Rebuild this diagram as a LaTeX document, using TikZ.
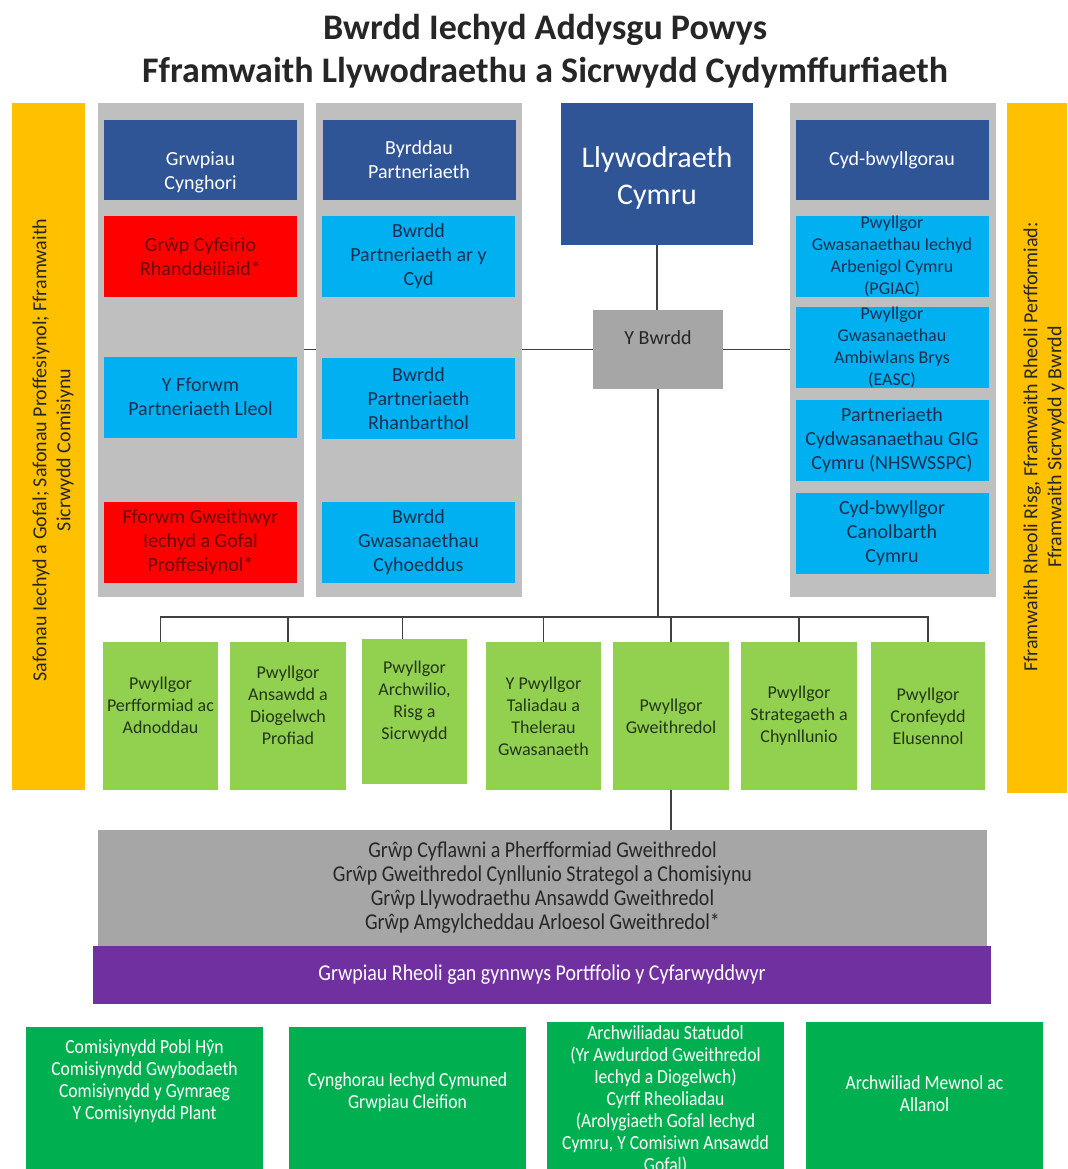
\documentclass[tikz,border=0pt]{standalone}
\usepackage{fontspec}
\setmainfont{Carlito}
\newfontfamily\narrowfont[FakeStretch=0.88]{Carlito}
\usepackage{xcolor}
\usetikzlibrary{positioning,backgrounds}

\definecolor{yellowbar}{HTML}{FFC000}
\definecolor{colgray}{HTML}{BFBFBF}
\definecolor{bgray}{HTML}{A6A6A6}
\definecolor{navy}{HTML}{2F5597}
\definecolor{skyblue}{HTML}{00B0F0}
\definecolor{boxred}{HTML}{FF0000}
\definecolor{lgreen}{HTML}{92D050}
\definecolor{dgreen}{HTML}{00B050}
\definecolor{violet}{HTML}{7030A0}
\definecolor{bluetxt}{HTML}{1C2F4F}
\definecolor{redtxt}{HTML}{6A0A0A}
\definecolor{greentxt}{HTML}{23361A}
\definecolor{darktxt}{HTML}{262626}
\definecolor{linegray}{HTML}{404040}

\begin{document}
\begin{tikzpicture}[
    x=0.75pt, y=-0.75pt,
    sz/.style 2 args={minimum width=#1*0.75pt, minimum height=#2*0.75pt},
    base/.style={inner sep=0pt, align=center},
    colbg/.style={base,fill=colgray,sz={206}{494}},
    hdr/.style={base,fill=navy,text=white,font=\fontsize{15}{18}\selectfont,sz={193}{80}},
    lb/.style={base,fill=skyblue,text=bluetxt,font=\fontsize{15}{18}\selectfont,sz={193}{81}},
    lbs/.style={lb,font=\fontsize{13.5}{16.5}\selectfont},
    rb/.style={base,fill=boxred,text=redtxt,font=\fontsize{15}{18}\selectfont,sz={193}{81}},
    pw/.style={base,fill=lgreen,text=greentxt,font=\fontsize{13.5}{16.5}\selectfont},
    dg/.style={base,fill=dgreen},
    dgt/.style={base,text=white,font=\narrowfont\fontsize{15}{16.5}\selectfont},
    ybox/.style={base,fill=yellowbar},
    ytxt/.style={base,rotate=90,text=darktxt,font=\fontsize{15}{18}\selectfont},
    ttl/.style={text=darktxt,font=\bfseries\fontsize{27}{32}\selectfont},
    link/.style={draw=linegray,line width=1pt},
  ]
  \useasboundingbox (0,0) rectangle (1067,1169);

  % title
  \node[ttl] (title1) at (545,30) {Bwrdd Iechyd Addysgu Powys};
  \node[ttl] (title2) at (545,73) {Fframwaith Llywodraethu a Sicrwydd Cydymffurfiaeth};

  % side bars
  \node[ybox,sz={73}{687}] (yl) at (48.5,446.5) {};
  \node[ytxt] (ylt) at (53,450) {Safonau Iechyd a Gofal; Safonau Proffesiynol; Fframwaith\\Sicrwydd Comisiynu};
  \node[ybox,sz={60}{690}] (yr) at (1037,448) {};
  \node[ytxt] (yrt) at (1044,447) {Fframwaith Rheoli Risg, Fframwaith Rheoli Perfformiad:\\Fframwaith Sicrwydd y Bwrdd};

  % grey columns
  \node[colbg] (c1) at (201,350) {};
  \node[colbg] (c2) at (419,350) {};
  \node[colbg] (c4) at (893,350) {};

  % advisory groups
  \node[hdr] (grwp) at (200.5,160) {\rule{0pt}{29pt}Grwpiau\\Cynghori};
  \node[rb] (cyfeirio) at (200.5,256.5) {Grŵp Cyfeirio\\Rhanddeiliaid*};
  \node[lb] (fforwm) at (200.5,397) {Y Fforwm\\Partneriaeth Lleol};
  \node[rb] (gweithwyr) at (200.5,542.5) {Fforwm Gweithwyr\\Iechyd a Gofal\\Proffesiynol*};

  % partnership boards
  \node[hdr] (byrddau) at (419,160) {Byrddau\\Partneriaeth};
  \node[lb] (arycyd) at (418.5,256.5) {Bwrdd\\Partneriaeth ar y\\Cyd};
  \node[lb] (rhanb) at (418.5,398.5) {Bwrdd\\Partneriaeth\\Rhanbarthol};
  \node[lb] (gwasan) at (418.5,542.5) {Bwrdd\\Gwasanaethau\\Cyhoeddus};

  % centre
  \node[hdr,sz={192}{142},font=\fontsize{22.5}{27}\selectfont] (llyw) at (657,174) {\rule{0pt}{21.5pt}Llywodraeth\\[1pt]Cymru};
  \node[base,fill=bgray,text=darktxt,sz={130}{79},font=\fontsize{15}{18}\selectfont] (bwrdd) at (658,349.5) {Y Bwrdd\\~};

  % joint committees
  \node[hdr] (cydb) at (892,160) {Cyd-bwyllgorau};
  \node[lbs] (pgiac) at (892,256.5) {Pwyllgor\\Gwasanaethau Iechyd\\Arbenigol Cymru\\(PGIAC)};
  \node[lbs] (easc) at (892,347.5) {Pwyllgor\\Gwasanaethau\\Ambiwlans Brys\\(EASC)};
  \node[lb] (nhs) at (892,440) {Partneriaeth\\Cydwasanaethau GIG\\Cymru (NHSWSSPC)};
  \node[lb] (canolb) at (892,533.5) {Cyd-bwyllgor\\Canolbarth\\Cymru};

  % board committees
  \node[pw,sz={115}{148}] (p1) at (160.5,716) {Pwyllgor\\Perfformiad ac\\Adnoddau\\~};
  \node[pw,sz={116}{148}] (p2) at (288,716) {Pwyllgor\\Ansawdd a\\Diogelwch\\Profiad\\~};
  \node[pw,sz={105}{145}] (p3) at (414.5,711.5) {Pwyllgor\\Archwilio,\\Risg a\\Sicrwydd\\~};
  \node[pw,sz={115}{148}] (p4) at (543.5,716) {Y Pwyllgor\\Taliadau a\\Thelerau\\Gwasanaeth};
  \node[pw,sz={116}{148}] (p5) at (671,716) {Pwyllgor\\Gweithredol};
  \node[pw,sz={116}{148}] (p6) at (799,716) {Pwyllgor\\Strategaeth a\\Chynllunio};
  \node[pw,sz={114}{148}] (p7) at (928,716) {Pwyllgor\\Cronfeydd\\Elusennol};

  % executive groups
  \node[base,fill=bgray,text=darktxt,sz={889}{116},font=\narrowfont\fontsize{17}{18}\selectfont] (grp) at (542.5,888) {Grŵp Cyflawni a Pherfformiad Gweithredol\\Grŵp Gweithredol Cynllunio Strategol a Chomisiynu\\Grŵp Llywodraethu Ansawdd Gweithredol\\Grŵp Amgylcheddau Arloesol Gweithredol*};
  \node[base,fill=violet,text=white,sz={898}{58},font=\narrowfont\fontsize{17}{18}\selectfont] (rheoli) at (542,975) {Grwpiau Rheoli gan gynnwys Portffolio y Cyfarwyddwyr};

  % external bodies
  \node[dg,sz={237}{150}] (b1) at (144.5,1102) {};
  \node[dg,sz={237}{150}] (b2) at (407.5,1102) {};
  \node[dg,sz={237}{155}] (b3) at (665.5,1099.5) {};
  \node[dg,sz={237}{155}] (b4) at (924.5,1099.5) {};
  \node[dgt] (b1t) at (144.5,1081.5) {Comisiynydd Pobl Hŷn\\Comisiynydd Gwybodaeth\\Comisiynydd y Gymraeg\\Y Comisiynydd Plant};
  \node[dgt] (b2t) at (407.5,1092) {Cynghorau Iechyd Cymuned\\Grwpiau Cleifion};
  \node[dgt] (b3t) at (665.5,1099.5) {Archwiliadau Statudol\\(Yr Awdurdod Gweithredol\\Iechyd a Diogelwch)\\Cyrff Rheoliadau\\(Arolygiaeth Gofal Iechyd\\Cymru, Y Comisiwn Ansawdd\\Gofal)};
  \node[dgt] (b4t) at (924.5,1094) {Archwiliad Mewnol ac\\Allanol};

  % connectors, behind the boxes
  \begin{scope}[on background layer]
    \coordinate (bus) at (0,617);
    \draw[link] (llyw.south) -- (llyw.south |- bwrdd.north);
    \draw[link] (bwrdd.west) -- (bwrdd.west -| c1.east);
    \draw[link] (bwrdd.east) -- (bwrdd.east -| c4.west);
    \draw[link] (bwrdd.south) -- (bwrdd.south |- bus);
    \draw[link] (p1.north) -- (p1.north |- bus) -- (p7.north |- bus) -- (p7.north);
    \foreach \p in {p2,p4,p5,p6}
      \draw[link] (\p.north) -- (\p.north |- bus);
    \draw[link] ([xshift=-9pt]p3.north) -- ([xshift=-9pt]p3.north |- bus);
    \draw[link] (p5.south) -- (p5.south |- grp.north);
  \end{scope}

\end{tikzpicture}
\end{document}
